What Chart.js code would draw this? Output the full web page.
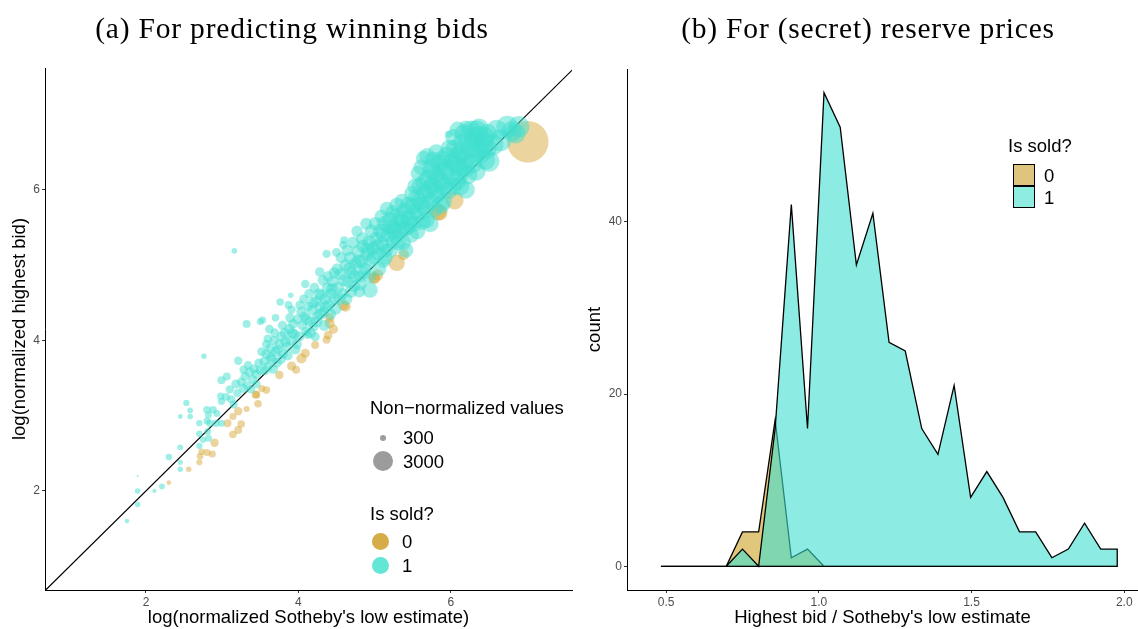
<!DOCTYPE html>
<html>
<head>
<meta charset="utf-8">
<script src="https://cdn.jsdelivr.net/npm/chart.js@4.4.1/dist/chart.umd.min.js"></script>
<style>
  body { margin:0; background:#fff; width:1138px; height:629px; position:relative; overflow:hidden;
         font-family:"Liberation Sans", Arial, sans-serif; }
  canvas { position:absolute; top:0; }
  #chartA { left:0; }
  #chartB { left:575px; }
  .title { position:absolute; top:28px; transform:translate(-50%,-50%); white-space:nowrap;
           font-family:"Liberation Serif", "DejaVu Serif", serif; font-size:29.5px; letter-spacing:0.8px; color:#000; }
  .lg { position:absolute; transform:translateY(-50%); white-space:nowrap; font-size:18.5px; color:#000; line-height:1; }
  .dot { position:absolute; border-radius:50%; }
  .box { position:absolute; box-sizing:border-box; border:1.5px solid #000; width:22px; height:22px; }
</style>
</head>
<body>
<canvas id="chartA" width="593" height="629"></canvas>
<canvas id="chartB" width="563" height="629"></canvas>

<div class="title" style="left:292px">(a) For predicting winning bids</div>
<div class="title" style="left:868px">(b) For (secret) reserve prices</div>

<!-- legends of panel (a) -->
<div class="lg" style="left:370px;top:408px">Non−normalized values</div>
<div class="dot" style="left:380px;top:435px;width:6px;height:6px;background:#9c9c9c"></div>
<div class="lg" style="left:403px;top:438px">300</div>
<div class="dot" style="left:373px;top:451px;width:20px;height:20px;background:#9c9c9c"></div>
<div class="lg" style="left:403px;top:462px">3000</div>
<div class="lg" style="left:370px;top:514px">Is sold?</div>
<div class="dot" style="left:372px;top:533px;width:17px;height:17px;background:#d5ac48"></div>
<div class="lg" style="left:402px;top:542px">0</div>
<div class="dot" style="left:372px;top:557px;width:17px;height:17px;background:#64e6d6"></div>
<div class="lg" style="left:402px;top:566px">1</div>

<!-- legend of panel (b) -->
<div class="lg" style="left:1008px;top:146px">Is sold?</div>
<div class="box" style="left:1013px;top:164px;background:#dfc47d"></div>
<div class="box" style="left:1013px;top:186px;background:#8eece0"></div>
<div class="lg" style="left:1044px;top:176px">0</div>
<div class="lg" style="left:1044px;top:198px">1</div>

<script>
// ---------- panel (a): log(normalized low estimate) vs log(normalized highest bid)
const soldX = [
  // below 3
  1.75,1.89,1.89,1.89,2.11,2.21,2.45,2.45,2.30,2.45, 2.70,2.45,2.53,2.58,2.58,2.70,2.70,2.80,2.88,2.82,
  2.93,2.84,2.92,2.99,2.80,2.81,2.75,2.82,2.98,2.99, 2.76,3.16,
  // 3.0 - 3.5
  3.05,3.10,3.12,3.18,3.20,3.25,3.28,3.30,3.33,3.36, 3.40,3.42,3.45,3.48,3.50,3.06,2.99,3.21,3.34,3.28,
  3.32,3.50,3.53,3.15,3.38,3.45,
  // 3.5 - 4.0
  3.55,3.58,3.60,3.63,3.65,3.68,3.70,3.72,3.75,3.78, 3.80,3.82,3.85,3.88,3.90,3.93,3.95,3.98,3.76,3.90,
  3.87,3.91,3.62,3.70,3.58,
  3.52,3.56,3.60,3.64,3.67,3.69,3.73,3.77,3.79,3.83, 3.86,3.89,3.92,3.96,3.99,
  // 4.0 - 4.5
  4.02,4.13,4.05,4.08,4.10,4.15,4.18,4.20,4.23,4.25, 4.28,4.30,4.33,4.35,4.38,4.40,4.43,4.45,4.48,4.09,
  4.28,4.12,4.22,
  4.01,4.04,4.07,4.11,4.14,4.16,4.19,4.21,4.24,4.27, 4.29,4.32,4.34,4.36,4.39,4.42,4.44,4.47,4.49,
  // 4.5 - 5.0
  4.37,4.50,4.59,4.60,4.52,4.55,4.58,4.62,4.65,4.68, 4.70,4.73,4.75,4.78,4.80,4.83,4.85,4.88,4.90,4.93,
  4.95,4.98,4.94,4.80,
  4.51,4.54,4.56,4.60,4.63,4.64,4.67,4.69,4.72,4.74, 4.77,4.79,4.81,4.84,4.86,4.89,4.91,4.93,4.96,4.99,
  // 5.0 - 5.5
  5.02,5.05,5.08,5.10,5.13,5.15,5.18,5.20,5.23,5.25, 5.28,5.30,5.33,5.35,5.38,5.40,5.43,5.45,5.48,5.50,
  5.12,
  5.01,5.04,5.06,5.09,5.11,5.14,5.16,5.19,5.21,5.24, 5.26,5.29,5.31,5.34,5.36,5.39,5.41,5.44,5.46,5.49,
  // 5.5 - 6.0
  5.52,5.55,5.57,5.58,5.60,5.62,5.64,5.66,5.68,5.70, 5.72,5.74,5.76,5.77,5.78,5.80,5.83,5.85,5.88,5.90,
  5.92,5.95,5.97,5.97,
  5.51,5.53,5.56,5.59,5.61,5.63,5.65,5.67,5.69,5.71, 5.73,5.75,5.79,5.81,5.84,5.87,5.89,5.91,5.94,5.98,
  // 6.0 - 6.5
  6.00,6.03,6.05,6.08,6.10,6.13,6.15,6.18,6.20,6.22, 6.25,6.28,6.30,6.34,6.36,6.38,6.42,6.45,6.50,6.48,
  6.20,6.12,
  6.02,6.04,6.07,6.09,6.11,6.14,6.17,6.19,6.24,6.27, 6.31,6.33,6.37,6.40,6.44,6.47,
  // above 6.5
  6.55,6.60,6.65,6.74,6.80,6.89,6.85
];
const soldY = [
  1.60,1.82,2.00,2.20,2.00,2.06,2.29,2.38,2.45,2.58, 2.60,2.99,3.17,3.07,2.99,2.90,2.76,3.08,3.08,3.01,
  3.03,2.90,2.90,2.90,2.93,2.79,2.68,2.70,3.26,3.19, 3.79,5.19,
  3.25,3.35,3.22,3.42,3.30,3.45,3.36,3.52,3.40,3.58, 3.48,3.62,3.55,3.70,3.60,3.52,3.47,3.73,3.67,3.61,
  4.22,4.25,4.27,3.15,3.35,3.42,
  3.72,3.82,3.65,3.90,3.75,4.00,3.85,3.70,3.95,4.05, 3.82,4.10,3.92,4.15,4.00,4.22,4.08,3.95,4.51,4.60,
  4.47,4.41,4.15,4.30,3.95,
  3.85,3.60,4.02,3.78,3.62,4.10,3.88,3.75,4.20,3.98, 3.80,4.30,4.10,3.88,4.28,
  4.47,4.45,4.20,4.32,4.12,4.25,4.40,4.18,4.52,4.32, 4.45,4.60,4.38,4.55,4.70,4.48,4.62,4.78,4.55,4.75,
  4.91,4.08,4.05,
  4.05,4.38,4.55,4.28,4.62,4.10,4.50,4.70,4.25,4.62, 4.35,4.80,4.20,4.45,4.85,4.35,4.68,4.90,4.42,
  5.15,5.17,5.27,5.33,4.70,4.88,4.62,5.00,4.78,5.10, 4.90,4.72,5.02,5.18,4.85,5.05,5.25,4.95,5.15,5.30,
  5.05,5.22,4.67,4.65,
  4.95,4.55,5.10,4.80,4.55,5.20,4.95,4.65,5.30,4.85, 5.45,5.05,4.75,5.35,4.90,5.55,5.20,4.85,5.45,5.10,
  5.35,5.15,5.45,5.28,5.55,5.20,5.40,5.60,5.30,5.50, 5.38,5.65,5.45,5.58,5.30,5.72,5.50,5.62,5.40,5.78,
  5.05,
  5.55,5.25,4.95,5.65,5.40,5.10,5.75,5.50,5.20,5.70, 5.45,5.80,5.30,5.62,5.85,5.48,5.20,5.80,5.55,5.95,
  5.55,5.90,6.22,5.68,6.05,5.80,6.42,5.95,5.60,6.15, 5.85,6.30,6.05,6.40,5.75,6.20,5.95,6.35,6.10,5.85,
  6.25,6.45,6.00,6.74,
  5.70,6.05,5.45,5.85,6.30,5.58,6.10,5.75,6.45,6.00, 5.55,6.25,5.95,6.50,6.15,5.80,6.40,6.05,6.30,6.55,
  6.20,6.38,6.55,6.12,6.45,6.30,6.62,6.40,6.83,6.20, 6.55,6.35,6.70,6.78,6.71,6.48,6.62,6.40,6.38,6.75,
  6.00,6.05,
  6.05,6.70,6.35,6.80,6.20,6.50,6.75,6.30,6.65,6.80, 6.50,6.25,6.82,6.55,6.70,6.55,
  6.60,6.80,6.66,6.84,6.78,6.84,6.75
];
// non-normalized value of each sold lot (drives marker area)
const soldV = [
  180,250,250,30,150,280,250,220,350,280, 320,200,320,260,260,320,350,450,450,400,
  400,450,450,400,400,400,320,400,400,400, 250,250,
  500,550,500,650,550,600,650,650,600,700, 650,650,700,650,650,500,500,550,550,550,
  500,400,400,500,550,550,
  700,750,700,700,750,600,750,700,750,800, 700,750,750,800,750,750,800,750,450,250,
  500,550,600,450,600,
  650,700,600,750,700,650,800,750,650,800, 750,700,850,800,750,
  650,700,750,750,700,850,850,750,900,850, 900,1000,850,1000,1000,900,1000,1050,1000,550,
  700,650,650,
  800,850,650,900,700,900,950,750,1000,950, 1000,850,950,1050,900,1000,1100,950,1100,
  550,600,550,500,1100,1100,1000,1150,1100,1200, 1150,1100,1200,1300,1150,1300,1350,1200,1350,1500,
  1300,1500,1800,1100,
  1000,1100,950,1200,1100,1000,1300,1200,1100,1300, 1000,1400,1300,1300,1400,1100,1500,1400,1400,1500,
  1550,1450,1700,1550,1800,1450,1700,1950,1550,1800, 1700,2100,1800,1950,1700,2200,1950,2100,1800,2300,
  1300,
  1400,1600,1500,1400,1700,1600,1500,1800,1700,1700, 1900,1600,1800,2000,1700,1900,1700,2000,2000,1800,
  1900,2200,1700,2000,2300,2100,1700,2300,2000,2400, 2200,2300,2400,2000,2200,2500,2400,2600,2500,2300,
  2600,2700,2500,400,
  2000,1800,1900,2200,1800,2000,2300,2200,1900,2400, 2100,2400,2500,2000,2500,2400,2500,2600,2600,2300,
  2700,2800,2500,2600,2900,2800,2800,3000,1500,2800, 3100,3000,3100,3400,3200,3100,3300,3000,3300,2800,
  2300,2500,
  2500,2200,2700,2000,2600,2800,2600,2800,2900,2600, 3000,2800,2800,3100,2900,3000,
  3400,3000,3600,3500,3100,3400,3000
];
// unsold lots (Is sold? = 0)
const unsoldX = [
  2.30,2.56,2.70,2.71,2.73,2.80,2.87,2.90,3.07,3.14, 3.21,3.25,3.21,3.32,3.14,3.44,3.47,3.58,3.45,3.52,
  3.75,3.91,3.97,4.04,4.09,4.22,4.37,4.39,4.46,4.41, 4.62,4.59,4.41,4.99,5.04,5.00,5.29,5.38,5.83,5.85,
  6.05,7.01
];
const unsoldY = [
  2.11,2.29,2.38,2.46,2.52,2.51,2.49,2.64,2.90,2.75, 2.81,2.89,3.06,3.09,2.99,3.28,3.16,3.34,3.28,3.36,
  3.54,3.66,3.61,3.76,3.83,3.94,4.01,4.07,4.15,4.23, 4.45,4.47,4.30,4.83,4.87,4.83,5.03,5.14,5.71,5.70,
  5.86,6.64
];
const unsoldV = [
  180,250,300,350,350,400,400,550,500,450, 500,450,550,300,400,500,450,450,450,400,
  550,650,500,800,650,500,500,600,650,800, 800,900,650,900,1000,1100,2000,900,2200,2000,
  2400,12500
];
const diagX = [0.5, 7.8];          // y = x reference line
const aTicks = [2, 4, 6];

// ---------- panel (b): frequency polygon of highest bid / low estimate
const binX = [0.483,0.537,0.590,0.643,0.697,0.750,0.803,0.857,0.910,0.963,1.017,1.070,1.123,1.177,1.230,
              1.283,1.337,1.390,1.443,1.497,1.550,1.603,1.657,1.710,1.763,1.817,1.870,1.923,1.977];
const countSold   = [0,0,0,0,0,2,0,16,42,16,55,51,35,41,26,25,16,13,21,8,11,8,4,4,1,2,5,2,2];
const countUnsold = [0,0,0,0,0,4,4,17,1,2,0,0,0,0,0,0,0,0,0,0,0,0,0,0,0,0,0,0,0];
const bXTicks = [0.5, 1.0, 1.5, 2.0];
const bXLabels = ['0.5', '1.0', '1.5', '2.0'];
const bYTicks = [0, 20, 40];

Chart.defaults.font.family = '"Liberation Sans", Arial, sans-serif';
Chart.defaults.animation = false;

// area of the marker follows the non-normalized value
const sizeToRadius = v => Math.max(1, 0.187 * Math.sqrt(v) - 0.2);
const bubbles = (xs, ys, vs) => xs.map((x, i) => ({ x: x, y: ys[i], r: sizeToRadius(vs[i]) }));

const points = (xs, ys) => xs.map((x, i) => ({ x: x, y: ys[i] }));
// outline: counts, then down and back along zero so the shape is closed like the original
const outline = (xs, ys) => {
  const pts = points(xs, ys);
  pts.push({ x: xs[xs.length - 1], y: 0 }, { x: xs[0], y: 0 });
  return pts;
};

function axis(title, min, max, tickVals, labels, size) {
  return {
    type: 'linear', min: min, max: max,
    afterBuildTicks: s => { s.ticks = tickVals.map(v => ({ value: v })); },
    afterFit: s => { if (s.isHorizontal()) s.height = size; else s.width = size; },
    ticks: {
      font: { size: 12 }, color: '#4d4d4d', padding: 2, autoSkip: false, maxRotation: 0,
      callback: (v, i) => labels ? labels[i] : String(v)
    },
    grid: { drawOnChartArea: false, drawTicks: true, tickLength: 3, color: '#333', lineWidth: 1 },
    border: { display: true, color: '#000', width: 1 },
    title: { display: true, text: title, color: '#000', font: { size: 18.5 }, padding: { top: 9, bottom: 0 } }
  };
}

new Chart(document.getElementById('chartA'), {
  type: 'bubble',
  data: {
    datasets: [
      {
        label: '1', data: bubbles(soldX, soldY, soldV), order: 1,
        backgroundColor: 'rgba(64,224,208,0.5)', borderWidth: 0, hoverBorderWidth: 0
      },
      {
        label: '0', data: bubbles(unsoldX, unsoldY, unsoldV), order: 2,
        backgroundColor: 'rgba(215,170,60,0.5)', borderWidth: 0, hoverBorderWidth: 0
      },
      {
        type: 'line', label: 'y = x', order: 3,
        data: diagX.map(v => ({ x: v, y: v })),
        borderColor: '#000', borderWidth: 1.2, pointRadius: 0, fill: false
      }
    ]
  },
  options: {
    responsive: false,
    events: [],
    // canvas is wider than the panel: bubbles force a minimum padding of their largest radius
    layout: { padding: { top: 68, right: 21, left: 0, bottom: 0 } },
    plugins: { legend: { display: false }, tooltip: { enabled: false } },
    scales: {
      x: axis("log(normalized Sotheby's low estimate)", 0.675, 7.59, aTicks, null, 39),
      y: axis('log(normalized highest bid)', 0.684, 7.62, aTicks, null, 45)
    }
  }
});

new Chart(document.getElementById('chartB'), {
  type: 'line',
  data: {
    datasets: [
      { // sold: outline on top
        label: '1', data: outline(binX, countSold), order: 1,
        borderColor: '#000', borderWidth: 1.3, fill: false, pointRadius: 0, tension: 0
      },
      {
        label: '1 fill', data: points(binX, countSold), order: 2,
        borderWidth: 0, backgroundColor: 'rgba(64,224,208,0.6)', fill: 'origin', pointRadius: 0, tension: 0
      },
      {
        label: '0', data: outline(binX, countUnsold), order: 3,
        borderColor: '#000', borderWidth: 1.3, fill: false, pointRadius: 0, tension: 0
      },
      {
        label: '0 fill', data: points(binX, countUnsold), order: 4,
        borderWidth: 0, backgroundColor: 'rgba(210,170,55,0.66)', fill: 'origin', pointRadius: 0, tension: 0
      }
    ]
  },
  options: {
    responsive: false,
    events: [],
    layout: { padding: { top: 69, right: 0, left: 0, bottom: 0 } },
    plugins: { legend: { display: false }, tooltip: { enabled: false } },
    scales: {
      x: axis("Highest bid / Sotheby's low estimate", 0.372, 2.045, bXTicks, bXLabels, 39),
      y: axis('count', -2.75, 57.75, bYTicks, null, 52)
    }
  }
});
</script>
</body>
</html>
